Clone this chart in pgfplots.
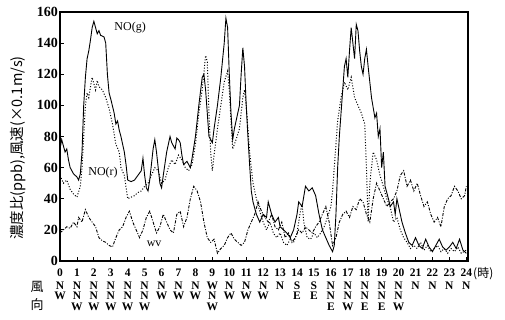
\documentclass[border=0pt]{standalone}
\usepackage{pgfplots}
\pgfplotsset{compat=1.18}
\usepackage{fontspec}
\setmainfont{Liberation Serif}
\newfontfamily\cjk{Noto Sans CJK JP}

\pgfplotstableread{
x y
0 72
0.1 78
0.2 74
0.3 70
0.4 72
0.5 65
0.6 60
0.8 56
1.0 54
1.1 52
1.2 56
1.3 70
1.4 100
1.5 118
1.6 130
1.7 135
1.8 142
1.9 150
2.0 154
2.1 150
2.2 146
2.3 148
2.4 145
2.6 144
2.7 140
2.8 120
2.9 108
3.0 104
3.2 95
3.3 88
3.4 90
3.5 84
3.6 80
3.7 75
3.8 70
3.9 62
4.0 52
4.2 51
4.4 52
4.6 55
4.8 58
4.9 66
5.0 55
5.1 47
5.2 45
5.3 52
5.4 62
5.5 72
5.6 78
5.7 70
5.8 60
5.9 50
6.0 47
6.1 55
6.3 70
6.5 80
6.6 76
6.7 74
6.8 72
6.9 79
7.0 78
7.1 76
7.2 68
7.3 62
7.5 64
7.7 60
7.8 66
8.0 80
8.2 100
8.4 118
8.5 120
8.6 110
8.7 95
8.8 80
9.0 76
9.1 85
9.3 100
9.5 118
9.7 140
9.8 156
9.9 150
10.0 120
10.1 95
10.2 78
10.3 85
10.5 95
10.6 100
10.7 120
10.8 137
10.9 125
11.0 100
11.1 80
11.2 62
11.3 45
11.4 38
11.6 30
11.8 25
12.0 30
12.2 28
12.3 38
12.5 30
12.7 25
12.9 28
13.0 22
13.2 20
13.4 18
13.6 15
13.8 20
14.0 30
14.1 38
14.3 35
14.5 48
14.7 45
14.9 47
15.1 42
15.3 30
15.5 20
15.7 15
15.9 10
16.1 6
16.2 10
16.3 30
16.4 60
16.5 80
16.6 95
16.8 125
16.9 130
17.0 118
17.1 135
17.2 150
17.3 140
17.4 130
17.5 152
17.6 148
17.7 135
17.8 125
17.9 120
18.0 130
18.1 136
18.2 125
18.4 105
18.6 92
18.7 95
18.8 80
18.9 85
19.0 60
19.1 70
19.2 48
19.4 40
19.5 35
19.7 38
19.8 30
19.9 40
20.0 35
20.2 25
20.4 18
20.6 12
20.8 10
21.0 15
21.2 10
21.4 8
21.6 14
21.8 9
22.0 6
22.2 10
22.4 14
22.6 9
22.8 7
23.0 9
23.2 12
23.4 8
23.6 14
23.8 7
24.0 5
}\nog

\pgfplotstableread{
x y
0 55
0.2 50
0.4 52
0.6 46
0.8 43
1.0 41
1.2 48
1.3 60
1.4 80
1.5 100
1.6 108
1.7 105
1.8 112
1.9 118
2.0 114
2.1 110
2.2 116
2.3 112
2.5 110
2.7 105
2.9 98
3.1 88
3.3 75
3.5 70
3.6 60
3.8 55
4.0 40
4.2 41
4.4 42
4.6 44
4.8 45
5.0 48
5.2 50
5.4 55
5.6 60
5.8 58
6.0 50
6.2 52
6.4 60
6.6 65
6.8 62
7.0 68
7.2 65
7.4 60
7.6 58
7.8 62
8.0 75
8.2 95
8.4 110
8.6 132
8.7 128
8.8 95
8.9 70
9.0 58
9.1 68
9.3 85
9.5 100
9.7 115
9.9 122
10.0 110
10.1 90
10.2 72
10.4 78
10.6 85
10.8 105
10.9 110
11.0 100
11.2 70
11.4 50
11.6 40
11.8 32
12.0 25
12.2 20
12.4 25
12.6 18
12.8 15
13.0 18
13.2 12
13.4 10
13.6 14
13.8 12
14.0 18
14.2 32
14.3 36
14.4 25
14.6 15
14.8 14
15.0 18
15.2 15
15.4 18
15.6 22
15.8 28
16.0 35
16.1 45
16.2 60
16.4 90
16.6 105
16.8 115
17.0 110
17.2 118
17.4 105
17.6 100
17.8 95
18.0 88
18.1 60
18.2 25
18.3 50
18.5 70
18.7 65
18.9 55
19.1 48
19.3 40
19.5 35
19.7 25
19.9 28
20.1 20
20.3 15
20.5 12
20.7 8
20.9 10
21.1 8
21.3 12
21.5 7
21.7 10
21.9 6
22.1 8
22.3 10
22.5 6
22.7 8
22.9 5
23.1 8
23.3 6
23.5 9
23.7 5
24.0 7
}\nor

\pgfplotstableread{
x y
0 18
0.2 20
0.4 22
0.6 21
0.8 25
1.0 22
1.1 28
1.3 25
1.5 33
1.7 28
1.9 25
2.1 22
2.3 15
2.5 13
2.7 12
2.9 10
3.1 9
3.3 15
3.5 20
3.7 22
3.9 28
4.1 32
4.3 25
4.5 20
4.7 15
4.9 20
5.1 28
5.3 32
5.5 25
5.7 18
5.9 22
6.1 30
6.3 25
6.5 20
6.7 18
6.9 30
7.1 32
7.3 22
7.5 28
7.7 40
7.9 48
8.1 45
8.3 38
8.5 25
8.7 15
8.9 12
9.1 14
9.3 5
9.5 8
9.7 10
9.9 15
10.1 18
10.3 14
10.5 12
10.7 10
10.9 12
11.1 20
11.3 25
11.5 30
11.7 38
11.9 32
12.1 28
12.3 25
12.5 30
12.7 22
12.9 20
13.1 25
13.3 15
13.5 18
13.7 12
13.9 15
14.1 20
14.3 18
14.5 22
14.7 20
14.9 18
15.1 22
15.3 25
15.5 30
15.7 35
15.9 25
16.1 10
16.3 15
16.5 25
16.7 30
16.9 32
17.1 28
17.3 35
17.5 33
17.7 40
17.9 38
18.1 30
18.3 25
18.5 40
18.7 50
18.9 45
19.1 40
19.3 35
19.5 38
19.7 40
19.9 45
20.1 55
20.3 58
20.5 48
20.7 52
20.9 45
21.1 50
21.3 42
21.5 35
21.7 38
21.9 30
22.1 25
22.3 28
22.5 22
22.7 35
22.9 40
23.1 42
23.3 48
23.5 45
23.7 40
23.9 42
24.0 48
}\wv

\begin{document}
\begin{tikzpicture}[x=1pt,y=1pt]
\useasboundingbox (0,0) rectangle (505,320);
\begin{axis}[
  at={(60pt,59pt)}, anchor=origin,
  scale only axis, width=408pt, height=249pt,
  xmin=0, xmax=24.1, ymin=0, ymax=160,
  axis line style={line width=1.4pt},
  tick align=inside, major tick length=4pt,
  xtick pos=bottom, ytick pos=left,
  tick style={line width=0.8pt, black},
  ytick={0,20,...,160},
  xtick={0,...,24},
  xticklabels={
    {0\\[2pt]N\\W},{1\\[2pt]N\\N\\W},{2\\[2pt]N\\N\\W},{3\\[2pt]N\\N\\W},{4\\[2pt]N\\N\\W},{5\\[2pt]N\\N\\W},
    {6\\[2pt]N\\W},{7\\[2pt]N\\W},{8\\[2pt]N\\W},{9\\[2pt]W\\N\\W},{10\\[2pt]N\\W},{11\\[2pt]N\\W},{12\\[2pt]N\\W},
    {13\\[2pt]N},{14\\[2pt]S\\E},{15\\[2pt]S\\E},{16\\[2pt]N\\N\\E},{17\\[2pt]N\\N\\W},{18\\[2pt]N\\N\\E},
    {19\\[2pt]N\\N\\E},{20\\[2pt]N\\N\\W},{21\\[2pt]N},{22\\[2pt]N},{23\\[2pt]N},{24\\[2pt]N}},
  xticklabel style={font=\bfseries\fontsize{11.5}{10.5}\selectfont, align=center, anchor=north, inner sep=1pt, yshift=-7pt},
  yticklabel style={font=\bfseries\fontsize{14}{14}\selectfont, inner sep=2pt},
  /pgf/number format/assume math mode=true,
]
\addplot[black, line width=0.9pt] table[x=x,y=y] {\nog};
\addplot[black, line width=1.0pt, dash pattern=on 1pt off 1.8pt] table[x=x,y=y] {\nor};
\addplot[black, line width=0.9pt, dash pattern=on 3pt off 1.5pt on 1pt off 1.5pt] table[x=x,y=y] {\wv};
\node[font=\fontsize{12}{12}\selectfont] at (axis cs:4.14,150) {NO(g)};
\node[font=\fontsize{12}{12}\selectfont] at (axis cs:2.54,57) {NO(r)};
\node[font=\fontsize{12}{12}\selectfont] at (axis cs:5.56,11) {wv};
\end{axis}
\node[rotate=90, font=\cjk\fontsize{14.5}{14.5}\selectfont] at (18,172) {濃度比(ppb),風速(×0.1m/s)};
\node[font=\cjk\fontsize{13}{13}\selectfont] at (37,33) {風};
\node[font=\cjk\fontsize{13}{13}\selectfont] at (37,15) {向};
\node[font=\cjk\fontsize{12}{12}\selectfont, anchor=west, inner sep=0pt] at (473,46) {(時)};
\end{tikzpicture}
\end{document}
